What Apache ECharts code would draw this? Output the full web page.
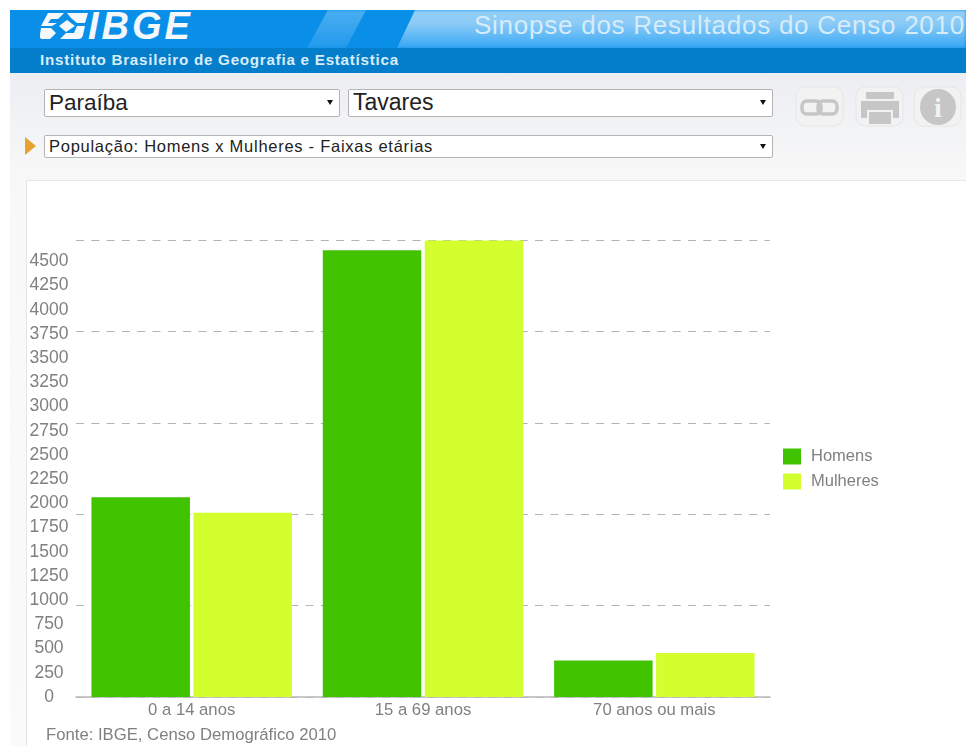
<!DOCTYPE html>
<html>
<head>
	<meta charset="UTF-8">
	<title>Sinopse dos Resultados do Censo 2010</title>
	<script src="https://cdn.jsdelivr.net/npm/echarts@6/dist/echarts.min.js"></script>
	<style>
		html, body { margin: 0; padding: 0; background: #fff; overflow: hidden; }
		body { width: 966px; height: 746px; position: relative; font-family: "Liberation Sans", Arial, sans-serif; }
		div, svg { position: absolute; }
		#fundo { left: 10px; top: 73px; width: 956px; height: 673px; background: linear-gradient(#eceef2 0, #f8f8f8 107px, #fafafa 100%); }
		#topo { left: 10px; top: 10px; width: 956px; height: 38px; overflow: hidden; background: #0a8fe8; }
		#listra { left: 0; top: 0; width: 956px; height: 38px; background: linear-gradient(#4aaef1 0, #2299ec 100%);
			clip-path: polygon(318px 0, 356px 0, 336px 38px, 297px 38px); filter: blur(1.5px); }
		#claro { left: 0; top: 0; width: 956px; height: 38px; background: linear-gradient(#93cff7 0, #8ccbf6 35%, #38a7f4 100%);
			clip-path: polygon(405px 0, 956px 0, 956px 38px, 387px 38px); filter: blur(1.5px); }
		#faixa { left: 10px; top: 48px; width: 956px; height: 25px; background: #047ecb; }
		#sigla { left: 88px; top: 5px; font-size: 38px; font-weight: bold; font-style: italic; color: #f4f8fb; letter-spacing: 3px; }
		#titulo { left: 474px; top: 10px; font-size: 26px; letter-spacing: .75px; color: #d5ecfb; white-space: nowrap; }
		#instituto { left: 40px; top: 51px; font-size: 15.2px; letter-spacing: .74px; font-weight: bold; color: #d9ecf8; white-space: nowrap; }
		.caixa { background: #fff; border: 1px solid #b4b4b4; border-radius: 2px; box-sizing: border-box; color: #222; white-space: nowrap; padding-left: 4px; }
		.seta { width: 0; height: 0; border-left: 3px solid transparent; border-right: 3px solid transparent; border-top: 5px solid #111; }
		#painel { left: 26px; top: 180px; width: 945px; height: 570px; background: #fff; border: 1px solid #e6e6e6; box-sizing: border-box; }
		#main { left: 0; top: 0; width: 966px; height: 746px; }
	</style>
</head>
<body>
<div id="fundo"></div>
<div id="topo"><div id="listra"></div><div id="claro"></div></div>
<div id="faixa"></div>
<svg style="left:40px;top:13px" width="48" height="26" viewBox="0 0 48 26">
	<path fill="#f4f8fb" d="M8 0H24L18 6H11L8 10H17L12 13H1ZM27 0H48L45 10H37L31 5ZM1 15H11L16 20L10 26H3C0 26 -1 24 0 21ZM37 13H45L43 22C42 25 41 26 38 26H20L26 20H34Z"/>
	<path fill="#f4f8fb" d="M27 7L35 13L26 19L19 13Z"/>
</svg>
<div id="sigla">IBGE</div>
<div id="titulo">Sinopse dos Resultados do Censo 2010</div>
<div id="instituto">Instituto Brasileiro de Geografia e Estatística</div>

<div class="caixa" style="left:44px;top:89px;width:296px;height:28px;font-size:22.5px;line-height:25px">Paraíba</div>
<div class="seta" style="left:327px;top:100px"></div>
<div class="caixa" style="left:348px;top:89px;width:425px;height:28px;font-size:23px;line-height:25px">Tavares</div>
<div class="seta" style="left:760px;top:100px"></div>
<svg style="left:24px;top:137px" width="13" height="19"><path fill="#e8a030" d="M1 0L12 9L1 18Z"/></svg>
<div class="caixa" style="left:44px;top:135px;width:729px;height:23px;font-size:16.5px;letter-spacing:.73px;line-height:20px">População: Homens x Mulheres - Faixas etárias</div>
<div class="seta" style="left:760px;top:144px"></div>

<svg style="left:794px;top:85px" width="170" height="44">
	<rect x="2" y="2" width="47" height="39" rx="9" fill="#f2f2f2" stroke="#e6e6e6"/>
	<rect x="62" y="2" width="47" height="39" rx="9" fill="#f2f2f2" stroke="#e6e6e6"/>
	<rect x="120" y="2" width="47" height="39" rx="9" fill="#f2f2f2" stroke="#e6e6e6"/>
	<g fill="none" stroke="#c6c6c6" stroke-width="3.5">
		<rect x="8" y="16" width="19" height="13" rx="5"/>
		<rect x="24" y="16" width="19" height="13" rx="5"/>
	</g>
	<path fill="#c6c6c6" d="M72 7H100V14H72ZM67 16H105V33H99V25H73V33H67Z"/>
	<rect x="75" y="27" width="22" height="12" fill="#c6c6c6"/>
	<circle cx="144" cy="22" r="18" fill="#c6c6c6"/>
	<text x="144" y="32" font-family="Liberation Serif" font-weight="bold" font-size="28" text-anchor="middle" fill="#f2f2f2">i</text>
</svg>

<div id="painel"></div>
<div id="main"></div>
<script type="text/javascript">
	var categorias = ['0 a 14 anos', '15 a 69 anos', '70 anos ou mais'];
	var homens = [2064, 4613, 377];
	var mulheres = [1904, 4716, 454];
	var yTicks = [0, 250, 500, 750, 1000, 1250, 1500, 1750, 2000, 2250, 2500, 2750, 3000, 3250, 3500, 3750, 4000, 4250, 4500];

	var myChart = echarts.init(document.getElementById('main'));

	var option = {
		animation: false,
		backgroundColor: 'transparent',
		textStyle: { fontFamily: '"Liberation Sans", Arial, sans-serif' },
		title: {
			text: 'Fonte: IBGE, Censo Demográfico 2010',
			left: 46,
			top: 727,
			padding: 0,
			textStyle: { fontSize: 16.7, fontWeight: 'normal', color: '#808080' }
		},
		legend: {
			data: ['Homens', 'Mulheres'],
			orient: 'vertical',
			left: 783,
			top: 448,
			padding: 0,
			itemWidth: 18,
			itemHeight: 16,
			itemGap: 8,
			icon: 'rect',
			textStyle: { fontSize: 16.5, color: '#808080', padding: [2, 0, 0, 5] }
		},
		grid: { left: 76, right: 196, top: 240, bottom: 49 },
		xAxis: {
			type: 'category',
			data: categorias,
			axisTick: { show: false },
			axisLine: { lineStyle: { color: '#b8b8b8', width: 1.5 } },
			axisLabel: { color: '#808080', fontSize: 16.7, margin: 5 }
		},
		yAxis: [
			{
				// escala dos rotulos, as barras usam esta
				type: 'value',
				min: 0,
				max: 4720,
				axisLine: { show: false },
				axisTick: { show: false },
				splitLine: { show: false },
				axisLabel: {
					customValues: yTicks,
					formatter: function (v) { return String(v); },
					align: 'center',
					margin: 27,
					padding: [4, 0, 0, 0],
					color: '#808080',
					fontSize: 17.5
				}
			},
			{
				// linhas tracejadas, nao batem com os rotulos no original
				type: 'value',
				min: 0,
				max: 5,
				interval: 1,
				axisLine: { show: false },
				axisTick: { show: false },
				axisLabel: { show: false },
				splitLine: { lineStyle: { color: '#b4b4b4', width: 1.2, type: [8, 7.3] } }
			}
		],
		series: [
			{
				name: 'Homens',
				type: 'bar',
				yAxisIndex: 0,
				barWidth: 98.5,
				barGap: '3.5%',
				itemStyle: { color: '#41c300' },
				data: homens
			},
			{
				name: 'Mulheres',
				type: 'bar',
				yAxisIndex: 0,
				barWidth: 98.5,
				barGap: '3.5%',
				itemStyle: { color: '#d4ff2f' },
				data: mulheres
			}
		]
	};

	myChart.setOption(option);
</script>
</body>
</html>
